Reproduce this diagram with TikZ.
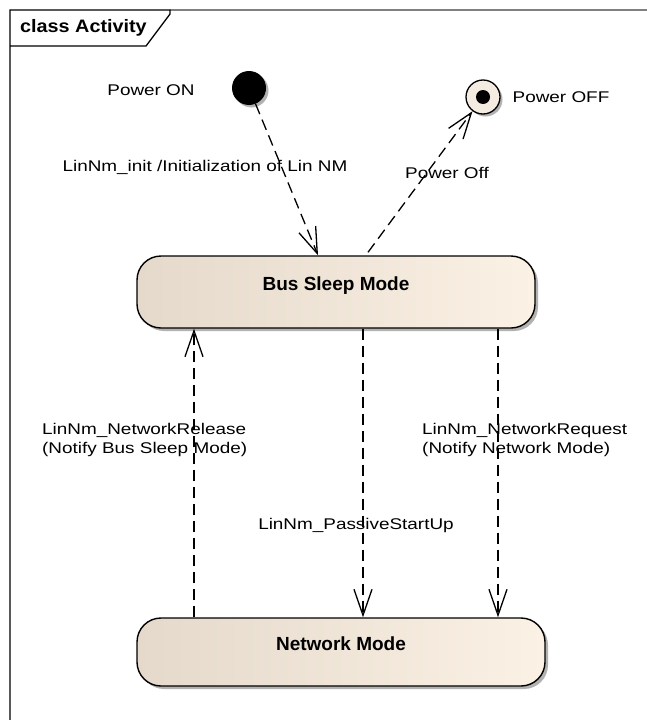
\documentclass[tikz,border=0pt]{standalone}
\usepackage{fontspec}
\setmainfont{Liberation Sans}
\newfontfamily\lblfont{Liberation Sans}[FakeStretch=1.22]
\newfontfamily\boldfont{Liberation Sans Bold}
\newfontfamily\titlefont{Liberation Sans Bold}[FakeStretch=1.1]
\usetikzlibrary{arrows.meta,shadows,calc}
\definecolor{boxleft}{HTML}{E4D9CB}
\definecolor{boxright}{HTML}{FBF1E4}
\definecolor{finalfill}{HTML}{F4ECE0}
\tikzset{
  lbl/.style={font=\lblfont\fontsize{15.5}{18}\selectfont, inner sep=0pt},
  statebox/.style={draw=black, line width=1.4pt, rounded corners=24pt,
    left color=boxleft, right color=boxright, shading angle=90,
    drop shadow={shadow xshift=3pt, shadow yshift=-3pt, fill=black!30, opacity=1},
    font=\boldfont\fontsize{19}{21}\selectfont, inner sep=0pt},
  trans/.style={line width=1.3pt, dash pattern=on 11pt off 6pt,
    -{Straight Barb[length=26pt,width=18pt,line width=1.3pt]}},
}
\begin{document}
\begin{tikzpicture}[x=1pt,y=-1pt]
\useasboundingbox (0,0) rectangle (647,720);
% frame
\draw[black!50, line width=1.5pt] (170,10) -- (647,10);
\draw[black, line width=1.3pt] (10,720) -- (10,10) -- (170,10) -- (170,14) -- (146,46) -- (10,46);
\node[font=\titlefont\fontsize{18}{20}\selectfont, anchor=west, inner sep=0pt] (title) at (20,28) {class Activity};

% initial and final nodes
\node[circle, fill=black, minimum size=34pt, inner sep=0pt,
  drop shadow={shadow xshift=2.5pt, shadow yshift=-2.5pt, fill=black!30, opacity=1}] (init) at (249,88) {};
\node[circle, draw=black, line width=1.3pt, fill=finalfill, minimum size=34pt, inner sep=0pt,
  drop shadow={shadow xshift=2.5pt, shadow yshift=-2.5pt, fill=black!30, opacity=1}] (final) at (483,97) {};
\node[circle, fill=black, minimum size=14pt, inner sep=0pt] (finaldot) at (final) {};

\node[lbl] (pon) at (151,90) {Power ON};
\node[lbl] (poff) at (561,97) {Power OFF};

% states
\node[statebox, minimum width=398pt, minimum height=72pt, text depth=16pt] (bsm) at (336,292) {Bus Sleep Mode};
\node[statebox, minimum width=408pt, minimum height=68pt, text depth=16pt] (nm) at (341,652) {Network Mode};

% transitions
\draw[trans] (init) -- ($(bsm.north)+(-18,0)$);
\draw[trans] ($(bsm.north)+(32,-3)$) -- (final);
\draw[trans] ($(nm.north)+(-147,0)$) -- ($(bsm.south)+(-142,0)$);
\draw[trans] ($(bsm.south)+(27,0)$) -- ($(nm.north)+(22,0)$);
\draw[trans] ($(bsm.south)+(162,0)$) -- ($(nm.north)+(157,0)$);

% labels
\node[lbl] (l1) at (205,167) {LinNm\_init /Initialization of Lin NM};
\node[lbl] (l2) at (447,173) {Power Off};
\node[lbl, anchor=west, align=left, font=\lblfont\fontsize{15.5}{19}\selectfont] (l3) at (42,440) {LinNm\_NetworkRelease\\(Notify Bus Sleep Mode)};
\node[lbl, anchor=west, align=left, font=\lblfont\fontsize{15.5}{19}\selectfont] (l4) at (422,440) {LinNm\_NetworkRequest\\(Notify Network Mode)};
\node[lbl] (l5) at (356,525) {LinNm\_PassiveStartUp};
\end{tikzpicture}
\end{document}
